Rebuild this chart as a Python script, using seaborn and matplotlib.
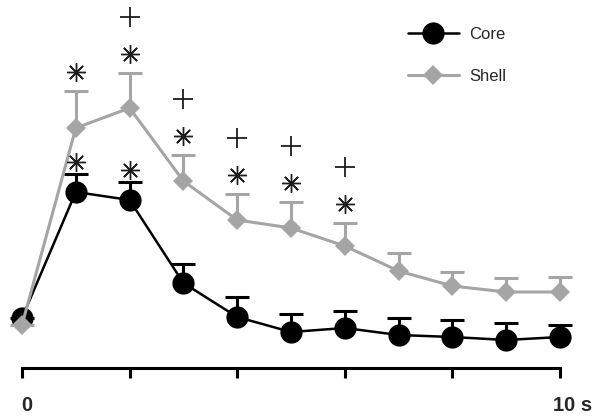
import numpy as np
import pandas as pd
import matplotlib
matplotlib.use("Agg")
import matplotlib.pyplot as plt
import matplotlib.transforms as mtrans
import seaborn as sns

# time after stimulus (s) and mean response with upward SEM
time_s = [0, 1, 2, 3, 4, 5, 6, 7, 8, 9, 10]
core_mean = [5.0, 17.6, 16.8, 8.5, 5.1, 3.6, 4.0, 3.3, 3.1, 2.8, 3.1]
core_sem = [0.0, 1.8, 1.8, 1.9, 2.0, 1.8, 1.7, 1.7, 1.7, 1.7, 1.2]
shell_mean = [4.3, 24.0, 26.0, 18.7, 14.8, 14.0, 12.2, 9.7, 8.2, 7.6, 7.6]
shell_sem = [0.0, 3.7, 3.5, 2.6, 2.6, 2.6, 2.3, 1.8, 1.4, 1.4, 1.5]

# significance flags per time point
core_star = [0, 1, 1, 0, 0, 0, 0, 0, 0, 0, 0]
shell_star = [0, 1, 1, 1, 1, 1, 1, 0, 0, 0, 0]
shell_plus = [0, 0, 1, 1, 1, 1, 1, 0, 0, 0, 0]

tick_pos = [0, 2, 4, 6, 8, 10]
tick_labels = ["0", "", "", "", "", "10 s"]

GREY = "#a5a5a5"
INK = "#1e1e1e"

sns.set_style("white")
plt.rcParams["font.family"] = ["Liberation Sans", "DejaVu Sans"]

df = pd.DataFrame({"time": time_s, "core": core_mean, "core_sem": core_sem,
                   "shell": shell_mean, "shell_sem": shell_sem})

fig = plt.figure(figsize=(6.01, 4.20), dpi=100)
ax = fig.add_axes([22 / 601, 52 / 420, 538 / 601, 368 / 420])


def up_errorbar(y, err, color, z):
    _, caps, _ = ax.errorbar(df["time"], df[y], yerr=[np.zeros(len(df)), df[err]],
                             fmt="none", ecolor=color, elinewidth=2.2, capsize=8.3,
                             capthick=2.2, zorder=z, clip_on=False)
    # keep only the upper caps
    for cap in caps:
        if np.allclose(cap.get_ydata(), df[y]):
            cap.remove()


up_errorbar("core", "core_sem", "black", 1)
sns.lineplot(data=df, x="time", y="core", color="black", marker="o", markersize=16,
             markeredgewidth=0, linewidth=1.8, label="Core", ax=ax, zorder=2, clip_on=False)
up_errorbar("shell", "shell_sem", GREY, 3)
sns.lineplot(data=df, x="time", y="shell", color=GREY, marker="D", markersize=10.5,
             markeredgewidth=0, linewidth=2.2, label="Shell", ax=ax, zorder=4, clip_on=False)

# significance marks above the error bars
core_top = df["core"] + df["core_sem"]
shell_top = df["shell"] + df["shell_sem"]
cs = np.array(core_star, bool)
ss = np.array(shell_star, bool)
sp = np.array(shell_plus, bool)
for xs, ys in [(df["time"][cs], core_top[cs] + 1.2), (df["time"][ss], shell_top[ss] + 1.9)]:
    ax.plot(xs, ys, linestyle="none", marker=(8, 2, 0), ms=13.5, mew=1.0, color=INK, zorder=5)
    ax.plot(xs, ys, linestyle="none", marker="o", ms=3.5, mew=0, color=INK, zorder=5)
ax.plot(df["time"][sp], shell_top[sp] + 1.9 + 3.7, linestyle="none", marker="+",
        ms=14.5, mew=1.3, color=INK, zorder=5)

ax.set_xlim(0, 10)
ax.set_ylim(0, 36.8)
ax.set_xlabel("")
ax.set_ylabel("")
ax.set_yticks([])
for side in ["left", "top", "right"]:
    ax.spines[side].set_visible(False)
ax.spines["bottom"].set_linewidth(2.2)
ax.spines["bottom"].set_color("black")
ax.set_xticks(tick_pos, labels=tick_labels)
ax.tick_params(axis="x", direction="out", length=7.5, width=2.2, color="black",
               pad=13, labelsize=14.5, bottom=True)
shifts = [4.5, 0, 0, 0, 0, 13]
for lab, dx in zip(ax.get_xticklabels(), shifts):
    lab.set_fontweight("bold")
    lab.set_transform(lab.get_transform() + mtrans.ScaledTranslation(dx / 100, 0, fig.dpi_scale_trans))

ax.legend(loc="upper left", bbox_to_anchor=(408 / 601, 1 - 27 / 420),
          bbox_transform=fig.transFigure, frameon=False, fontsize=12,
          borderpad=0, borderaxespad=0, handlelength=3.06, handletextpad=0.6,
          labelspacing=1.63)

fig.savefig("out.png", dpi=100)
